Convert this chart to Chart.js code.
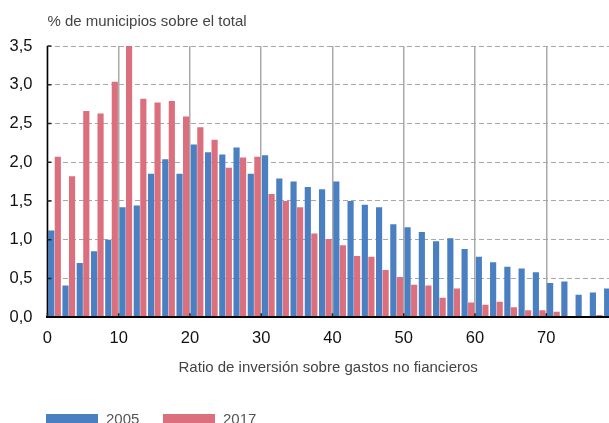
<!DOCTYPE html>
<html>
<head>
<meta charset="utf-8">
<script src="https://cdn.jsdelivr.net/npm/chart.js@4/dist/chart.umd.min.js"></script>
<style>
  html, body { margin: 0; padding: 0; background: #fff; overflow: hidden; }
  #wrap { width: 609px; height: 423px; }
</style>
</head>
<body>
<div id="wrap"><canvas id="chart" width="609" height="423"></canvas></div>
<script>
// Bin starts (ratio, width 2) and % of municipalities per bin
const binStarts = [0, 2, 4, 6, 8, 10, 12, 14, 16, 18, 20, 22, 24, 26, 28, 30, 32, 34, 36, 38,
                   40, 42, 44, 46, 48, 50, 52, 54, 56, 58, 60, 62, 64, 66, 68, 70, 72, 74, 76, 78];
const values2005 = [1.12, 0.41, 0.70, 0.85, 1.00, 1.42, 1.44, 1.85, 2.04, 1.85,
                    2.23, 2.13, 2.10, 2.19, 1.85, 2.09, 1.79, 1.75, 1.68, 1.65,
                    1.75, 1.50, 1.45, 1.42, 1.20, 1.16, 1.10, 0.98, 1.02, 0.88,
                    0.78, 0.71, 0.65, 0.63, 0.58, 0.44, 0.46, 0.29, 0.32, 0.37];
const values2017 = [2.07, 1.82, 2.66, 2.63, 3.04, 3.50, 2.82, 2.77, 2.79, 2.59,
                    2.45, 2.29, 1.93, 2.06, 2.07, 1.59, 1.50, 1.42, 1.08, 1.01,
                    0.93, 0.79, 0.78, 0.61, 0.52, 0.42, 0.41, 0.25, 0.37, 0.19,
                    0.16, 0.20, 0.13, 0.09, 0.09, 0.07, 0.01, 0.01, 0.03, 0.01];
const seriesLabels = ['2005', '2017'];
const yTicks = [0, 0.5, 1, 1.5, 2, 2.5, 3, 3.5];
const xTicks = [0, 10, 20, 30, 40, 50, 60, 70];

const FONT = "'Liberation Sans', Arial, Helvetica, sans-serif";
const BLUE = '#4a7fc2';
const RED = '#dc6f7e';

const toPoints = (vals) => vals.map((v, i) => ({ x: binStarts[i] + 1, y: v }));

// legend drawn under the plot, starting at the plot's left edge
const bottomLegend = {
    id: 'bottomLegend',
    afterDraw(chart) {
        const ctx = chart.ctx;
        ctx.save();
        ctx.font = '15px ' + FONT;
        ctx.textBaseline = 'alphabetic';
        chart.data.datasets.forEach((ds, i) => {
            const x = 46 + i * 117;
            ctx.fillStyle = ds.backgroundColor;
            ctx.fillRect(x, 414, 52, 12);
            ctx.fillStyle = '#555';
            ctx.fillText(ds.label, x + 60, 424);
        });
        ctx.restore();
    }
};

// solid y axis line plus small dark tick marks pointing into the plot
const innerTicks = {
    id: 'innerTicks',
    afterDatasetsDraw(chart) {
        const { ctx, chartArea, scales } = chart;
        ctx.save();
        ctx.strokeStyle = '#000';
        ctx.lineWidth = 1.5;
        ctx.beginPath();
        ctx.moveTo(chartArea.left, chartArea.top);
        ctx.lineTo(chartArea.left, chartArea.bottom);
        ctx.stroke();
        ctx.strokeStyle = '#222';
        ctx.beginPath();
        xTicks.forEach(v => {
            const px = scales.x.getPixelForValue(v);
            ctx.moveTo(px, chartArea.bottom);
            ctx.lineTo(px, chartArea.bottom - 4);
        });
        yTicks.forEach(v => {
            const py = scales.y.getPixelForValue(v);
            ctx.moveTo(chartArea.left, py);
            ctx.lineTo(chartArea.left + 4, py);
        });
        ctx.stroke();
        ctx.restore();
    }
};

new Chart(document.getElementById('chart'), {
    type: 'bar',
    data: {
        datasets: [
            { label: seriesLabels[0], data: toPoints(values2005), backgroundColor: BLUE, borderWidth: 0 },
            { label: seriesLabels[1], data: toPoints(values2017), backgroundColor: RED, borderWidth: 0 }
        ]
    },
    options: {
        responsive: false,
        animation: false,
        categoryPercentage: 0.92,
        barPercentage: 0.94,
        layout: { padding: { left: 0, right: 0, top: 0, bottom: 46 } },
        plugins: {
            legend: { display: false },
            tooltip: { enabled: false },
            title: {
                display: true,
                text: '% de municipios sobre el total',
                align: 'start',
                fullSize: false,
                color: '#444',
                font: { family: FONT, size: 15, weight: 'normal' },
                padding: { top: 13, bottom: 15 }
            }
        },
        scales: {
            x: {
                type: 'linear',
                offset: false,
                min: 0,
                max: 78.8,
                afterBuildTicks: (s) => { s.ticks = xTicks.map(v => ({ value: v })); },
                ticks: {
                    includeBounds: false,
                    color: '#111',
                    padding: 11,
                    maxRotation: 0,
                    font: { family: FONT, size: 16.5 }
                },
                grid: { color: '#aaaaaa', lineWidth: 1.5, drawTicks: false, offset: false },
                border: { color: '#000', width: 2, z: 1 },
                title: {
                    display: true,
                    text: 'Ratio de inversión sobre gastos no fiancieros',
                    color: '#444',
                    font: { family: FONT, size: 15 },
                    padding: { top: 0, bottom: 0 }
                }
            },
            y: {
                min: 0,
                max: 3.5,
                afterBuildTicks: (s) => { s.ticks = yTicks.map(v => ({ value: v })); },
                afterFit: (s) => { s.width = 47.4; },
                ticks: {
                    color: '#111',
                    padding: 15,
                    font: { family: FONT, size: 16.5 },
                    callback: (v) => v.toFixed(1).replace('.', ',')
                },
                grid: { color: '#a8a8a8', lineWidth: 1, drawTicks: false },
                border: { display: false, dash: [5, 3] }
            }
        }
    },
    plugins: [bottomLegend, innerTicks]
});
</script>
</body>
</html>
